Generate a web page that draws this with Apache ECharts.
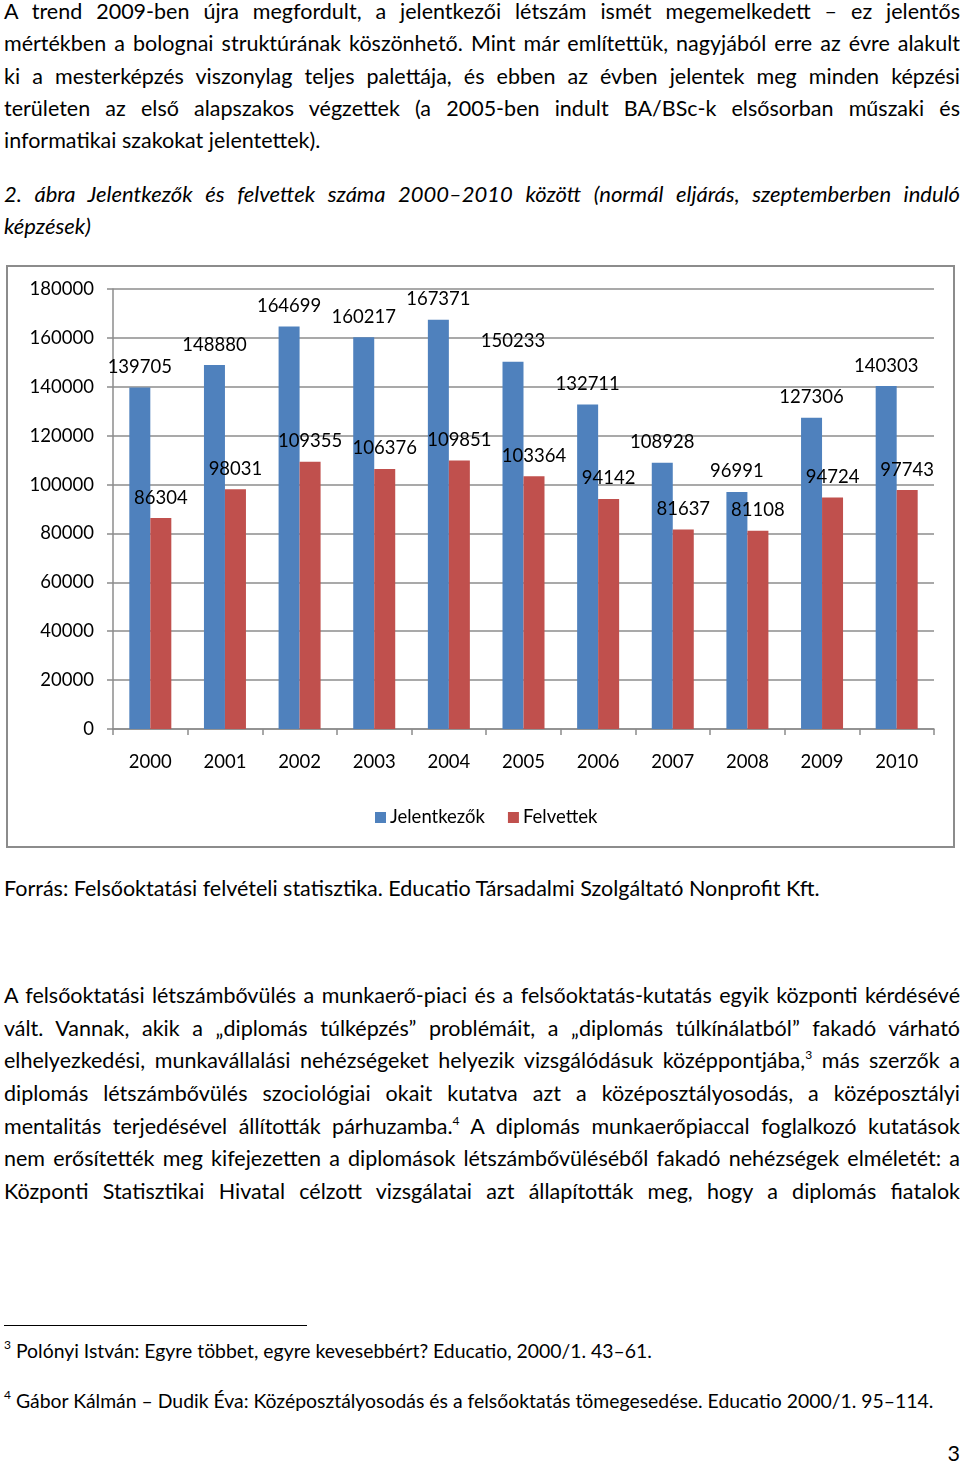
<!DOCTYPE html>
<html>
<head>
<meta charset="utf-8">
<script src="https://cdn.jsdelivr.net/npm/echarts@6/dist/echarts.min.js"></script>
<style>
  html, body { margin: 0; padding: 0; background: #fff; }
  body { width: 960px; height: 1462px; position: relative; overflow: hidden;
         font-family: Lato, "Open Sans", "Noto Sans", sans-serif; color: #000; }
  .ln { position: absolute; left: 4px; width: 956px; height: 28px; line-height: 28px;
        font-size: 21.5px; white-space: nowrap; }
  .j { text-align: justify; text-align-last: justify; white-space: normal; }
  .it { font-style: italic; font-size: 22px; }
  .fn { font-size: 19.4px; }
  sup { font-size: 12px; line-height: 0; vertical-align: 0; position: relative; top: -9px; }
  #chart { position: absolute; left: 6px; top: 265px; width: 949px; height: 583px; }
  #frame { position: absolute; left: 6px; top: 265px; width: 949px; height: 583px;
           box-sizing: border-box; border: 2px solid #8c8c8c; pointer-events: none; }
  #rule { position: absolute; left: 4px; top: 1325px; width: 303px; height: 0; border-top: 1.5px solid #000; }
</style>
</head>
<body>
<div class="ln j" style="top:-3px">A trend 2009-ben újra megfordult, a jelentkezői létszám ismét megemelkedett – ez jelentős</div>
<div class="ln j" style="top:29px">mértékben a bolognai struktúrának köszönhető. Mint már említettük, nagyjából erre az évre alakult</div>
<div class="ln j" style="top:62px">ki a mesterképzés viszonylag teljes palettája, és ebben az évben jelentek meg minden képzési</div>
<div class="ln j" style="top:94px">területen az első alapszakos végzettek (a 2005-ben indult BA/BSc-k elsősorban műszaki és</div>
<div class="ln" style="top:126px">informatikai szakokat jelentettek).</div>

<div class="ln j it" style="top:180px">2. ábra Jelentkezők és felvettek száma 2000–2010 között (normál eljárás, szeptemberben induló</div>
<div class="ln it" style="top:212px">képzések)</div>

<div id="chart"></div>
<div id="frame"></div>

<div class="ln" style="top:874px">Forrás: Felsőoktatási felvételi statisztika. Educatio Társadalmi Szolgáltató Nonprofit Kft.</div>

<div class="ln j" style="top:981px">A felsőoktatási létszámbővülés a munkaerő-piaci és a felsőoktatás-kutatás egyik központi kérdésévé</div>
<div class="ln j" style="top:1014px">vált. Vannak, akik a „diplomás túlképzés” problémáit, a „diplomás túlkínálatból” fakadó várható</div>
<div class="ln j" style="top:1046px">elhelyezkedési, munkavállalási nehézségeket helyezik vizsgálódásuk középpontjába,<sup>3</sup> más szerzők a</div>
<div class="ln j" style="top:1079px">diplomás létszámbővülés szociológiai okait kutatva azt a középosztályosodás, a középosztályi</div>
<div class="ln j" style="top:1112px">mentalitás terjedésével állították párhuzamba.<sup>4</sup> A diplomás munkaerőpiaccal foglalkozó kutatások</div>
<div class="ln j" style="top:1144px">nem erősítették meg kifejezetten a diplomások létszámbővüléséből fakadó nehézségek elméletét: a</div>
<div class="ln j" style="top:1177px">Központi Statisztikai Hivatal célzott vizsgálatai azt állapították meg, hogy a diplomás fiatalok</div>

<div id="rule"></div>
<div class="ln fn" style="top:1337px"><sup>3</sup> Polónyi István: Egyre többet, egyre kevesebbért? Educatio, 2000/1. 43–61.</div>
<div class="ln fn" style="top:1387px"><sup>4</sup> Gábor Kálmán – Dudik Éva: Középosztályosodás és a felsőoktatás tömegesedése. Educatio 2000/1. 95–114.</div>
<div class="ln" style="top:1439px; text-align:right; width:956px;">3</div>

<script>
const years = ['2000','2001','2002','2003','2004','2005','2006','2007','2008','2009','2010'];
const jelentkezok = [139705, 148880, 164699, 160217, 167371, 150233, 132711, 108928, 96991, 127306, 140303];
const felvettek = [86304, 98031, 109355, 106376, 109851, 103364, 94142, 81637, 81108, 94724, 97743];
const seriesNames = ['Jelentkezők', 'Felvettek'];
const yMin = 0, yMax = 180000, yStep = 20000;

const FONT = 'Lato, "Open Sans", sans-serif';
const chart = echarts.init(document.getElementById('chart'), null, { renderer: 'canvas' });
const labelCfg = { show: true, position: 'top', distance: 11, color: '#000', fontSize: 18.5, fontFamily: FONT };
chart.setOption({
  animation: false,
  textStyle: { fontFamily: FONT },
  grid: { left: 107, top: 24, width: 821, height: 440, containLabel: false },
  legend: {
    data: seriesNames, left: 364, top: 538, icon: 'rect', itemWidth: 11, itemHeight: 11, itemGap: 23,
    textStyle: { fontSize: 18.5, color: '#000', fontFamily: FONT, padding: [0, 0, 0, -1] }
  },
  xAxis: {
    type: 'category', data: years,
    axisLine: { show: true, lineStyle: { color: '#8c8c8c', width: 1.5 } },
    axisTick: { show: true, length: 6, alignWithLabel: false, lineStyle: { color: '#8c8c8c', width: 1.5 } },
    axisLabel: { color: '#000', fontSize: 18.5, fontFamily: FONT, margin: 24 }
  },
  yAxis: {
    type: 'value', min: yMin, max: yMax, interval: yStep,
    axisLine: { show: true, lineStyle: { color: '#8c8c8c', width: 1.5 } },
    axisTick: { show: true, length: 6, lineStyle: { color: '#8c8c8c', width: 1.5 } },
    splitLine: { show: true, lineStyle: { color: '#8c8c8c', width: 1.5 } },
    axisLabel: { color: '#000', fontSize: 18.5, fontFamily: FONT, margin: 19, formatter: v => String(v) }
  },
  series: [
    { name: seriesNames[0], type: 'bar', data: jelentkezok, barWidth: 21, barGap: '0%',
      itemStyle: { color: '#4F81BD' }, label: labelCfg },
    { name: seriesNames[1], type: 'bar', data: felvettek, barWidth: 21, barGap: '0%',
      itemStyle: { color: '#C0504D' }, label: labelCfg }
  ]
});
</script>
</body>
</html>
